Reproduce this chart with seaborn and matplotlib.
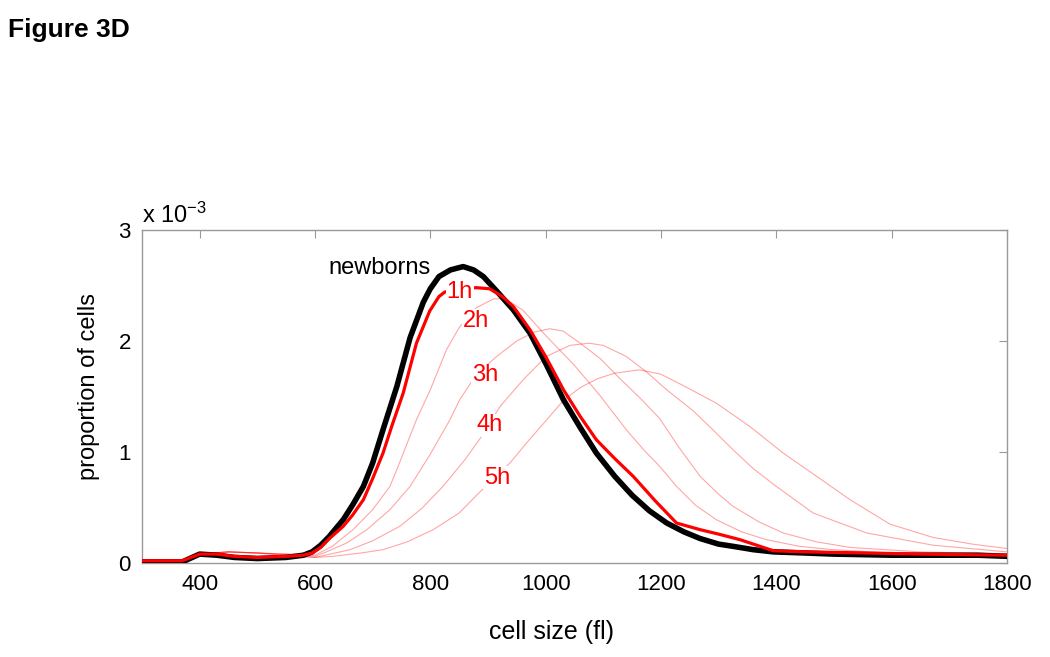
import numpy as np
import pandas as pd
import matplotlib
matplotlib.use("Agg")
import matplotlib.pyplot as plt
import seaborn as sns

# cell size (fl) vs proportion of cells (x 1e-3)
newborn_x = [300, 370, 400, 430, 460, 500, 550, 580, 595, 610, 625, 649, 665, 684, 700, 718, 742, 765, 788, 800, 815, 835, 857, 875, 892, 915, 944, 973, 1000, 1031, 1060, 1088, 1120, 1150, 1180, 1210, 1240, 1268, 1300, 1325, 1360, 1395, 1450, 1500, 1600, 1672, 1750, 1800]
newborn_y = [0.01, 0.01, 0.08, 0.07, 0.05, 0.04, 0.05, 0.07, 0.10, 0.16, 0.24, 0.39, 0.52, 0.69, 0.90, 1.20, 1.59, 2.03, 2.35, 2.47, 2.58, 2.64, 2.67, 2.64, 2.58, 2.45, 2.28, 2.07, 1.80, 1.47, 1.22, 0.99, 0.78, 0.61, 0.47, 0.36, 0.28, 0.22, 0.17, 0.15, 0.12, 0.10, 0.09, 0.08, 0.07, 0.07, 0.07, 0.06]

h1_x = [300, 370, 400, 430, 460, 500, 550, 580, 595, 610, 625, 649, 665, 684, 700, 718, 735, 753, 776, 799, 815, 825, 850, 880, 903, 925, 944, 973, 1000, 1031, 1060, 1088, 1120, 1152, 1190, 1227, 1268, 1300, 1337, 1395, 1450, 1556, 1650, 1800]
h1_y = [0.02, 0.02, 0.08, 0.08, 0.06, 0.05, 0.06, 0.07, 0.09, 0.14, 0.22, 0.33, 0.43, 0.57, 0.76, 0.99, 1.26, 1.53, 1.98, 2.27, 2.40, 2.44, 2.47, 2.48, 2.47, 2.40, 2.31, 2.10, 1.86, 1.56, 1.32, 1.11, 0.94, 0.78, 0.56, 0.36, 0.30, 0.26, 0.21, 0.11, 0.10, 0.09, 0.08, 0.07]

h2_x = [300, 370, 400, 450, 500, 550, 600, 630, 666, 700, 730, 745, 760, 776, 800, 828, 850, 880, 910, 930, 960, 1000, 1050, 1094, 1140, 1170, 1198, 1227, 1260, 1296, 1340, 1383, 1440, 1498, 1600, 1800]
h2_y = [0.01, 0.01, 0.08, 0.10, 0.09, 0.08, 0.07, 0.15, 0.30, 0.48, 0.69, 0.88, 1.08, 1.29, 1.56, 1.92, 2.12, 2.30, 2.38, 2.38, 2.28, 2.05, 1.78, 1.51, 1.20, 1.02, 0.87, 0.69, 0.52, 0.39, 0.28, 0.21, 0.15, 0.12, 0.09, 0.07]

h3_x = [300, 370, 400, 450, 500, 550, 600, 620, 655, 690, 730, 765, 800, 834, 851, 880, 915, 950, 980, 1007, 1030, 1060, 1095, 1129, 1165, 1198, 1230, 1268, 1300, 1325, 1370, 1412, 1470, 1528, 1650, 1800]
h3_y = [0.01, 0.01, 0.08, 0.10, 0.09, 0.08, 0.06, 0.10, 0.18, 0.30, 0.48, 0.69, 0.98, 1.29, 1.47, 1.70, 1.86, 2.00, 2.08, 2.11, 2.09, 1.98, 1.84, 1.66, 1.48, 1.30, 1.05, 0.78, 0.62, 0.51, 0.37, 0.27, 0.19, 0.14, 0.10, 0.08]

h4_x = [300, 370, 400, 450, 500, 550, 600, 661, 700, 747, 785, 822, 860, 889, 921, 961, 1001, 1042, 1075, 1100, 1140, 1175, 1210, 1256, 1290, 1325, 1360, 1400, 1464, 1557, 1672, 1800]
h4_y = [0.01, 0.01, 0.08, 0.10, 0.09, 0.07, 0.05, 0.12, 0.20, 0.33, 0.49, 0.69, 0.93, 1.14, 1.41, 1.65, 1.86, 1.96, 1.98, 1.96, 1.86, 1.72, 1.56, 1.37, 1.20, 1.02, 0.85, 0.69, 0.45, 0.27, 0.16, 0.10]

h5_x = [300, 370, 400, 450, 500, 550, 600, 631, 680, 718, 760, 805, 850, 886, 912, 938, 970, 1002, 1030, 1060, 1090, 1120, 1163, 1200, 1238, 1296, 1354, 1412, 1470, 1528, 1597, 1672, 1740, 1800]
h5_y = [0.01, 0.01, 0.08, 0.10, 0.09, 0.07, 0.05, 0.06, 0.09, 0.12, 0.19, 0.30, 0.45, 0.64, 0.77, 0.90, 1.10, 1.29, 1.46, 1.58, 1.66, 1.71, 1.74, 1.70, 1.60, 1.44, 1.23, 0.99, 0.78, 0.57, 0.35, 0.23, 0.17, 0.13]

thin_series = {"2h": (h2_x, h2_y), "3h": (h3_x, h3_y), "4h": (h4_x, h4_y), "5h": (h5_x, h5_y)}

# label anchor points (data coords)
label_names = ["1h", "2h", "3h", "4h", "5h"]
label_x = [851, 879, 895, 903, 916]
label_y = [2.44, 2.18, 1.69, 1.24, 0.77]

x_ticks = [400, 600, 800, 1000, 1200, 1400, 1600, 1800]
y_ticks = [0, 1, 2, 3]

sns.set_style("white")
plt.rcParams['font.family'] = ['Liberation Sans', 'DejaVu Sans']
plt.rcParams['mathtext.default'] = 'regular'
plt.rcParams['text.color'] = 'black'
plt.rcParams['axes.labelcolor'] = 'black'
plt.rcParams['xtick.color'] = 'black'
plt.rcParams['ytick.color'] = 'black'

fig = plt.figure(figsize=(10.5, 6.57), dpi=100)
ax = fig.add_axes([0.1352, 0.1431, 0.8238, 0.5069])

for name, (xs, ys) in thin_series.items():
    d = pd.DataFrame({"size": xs, "prop": ys})
    sns.lineplot(data=d, x="size", y="prop", ax=ax, color="#ff0000", alpha=0.35,
                 linewidth=0.8, sort=False, zorder=2)

d1 = pd.DataFrame({"size": h1_x, "prop": h1_y})
sns.lineplot(data=d1, x="size", y="prop", ax=ax, color="#ff0000", linewidth=2.3, sort=False, zorder=4)

dn = pd.DataFrame({"size": newborn_x, "prop": newborn_y})
sns.lineplot(data=dn, x="size", y="prop", ax=ax, color="black", linewidth=4.0, sort=False, zorder=3)

ax.text(800, 2.66, "newborns", fontsize=17, color="black", ha="right", va="center",
        zorder=6, bbox=dict(facecolor="white", edgecolor="none", pad=0.5))
for name, lx, ly in zip(label_names, label_x, label_y):
    ax.text(lx, ly, name, fontsize=17, color="#ff0000", ha="center", va="center",
            zorder=6, bbox=dict(facecolor="white", edgecolor="none", pad=0.5))

ax.set_xlim(300, 1800)
ax.set_ylim(0, 3)
ax.set_xticks(x_ticks)
ax.set_yticks(y_ticks)
ax.tick_params(direction="in", length=6, labelsize=16, top=True, right=True,
               color="#999999", labelcolor="black", pad=8)
for s in ax.spines.values():
    s.set_color("#999999")
    s.set_linewidth(1.0)

ax.set_xlabel("cell size (fl)", fontsize=18, color="black")
ax.xaxis.set_label_coords(0.473, -0.17)
ax.set_ylabel("proportion of cells", fontsize=17, color="black")
ax.yaxis.set_label_coords(-0.049, 0.53)
ax.text(0.0, 1.005, "x 10$^{-3}$", transform=ax.transAxes, fontsize=17,
        ha="left", va="bottom", color="black")

fig.text(0.008, 0.955, "Figure 3D", fontsize=19, fontweight="bold", ha="left", va="center",
         color="black")

fig.savefig("out.png", dpi=100)
